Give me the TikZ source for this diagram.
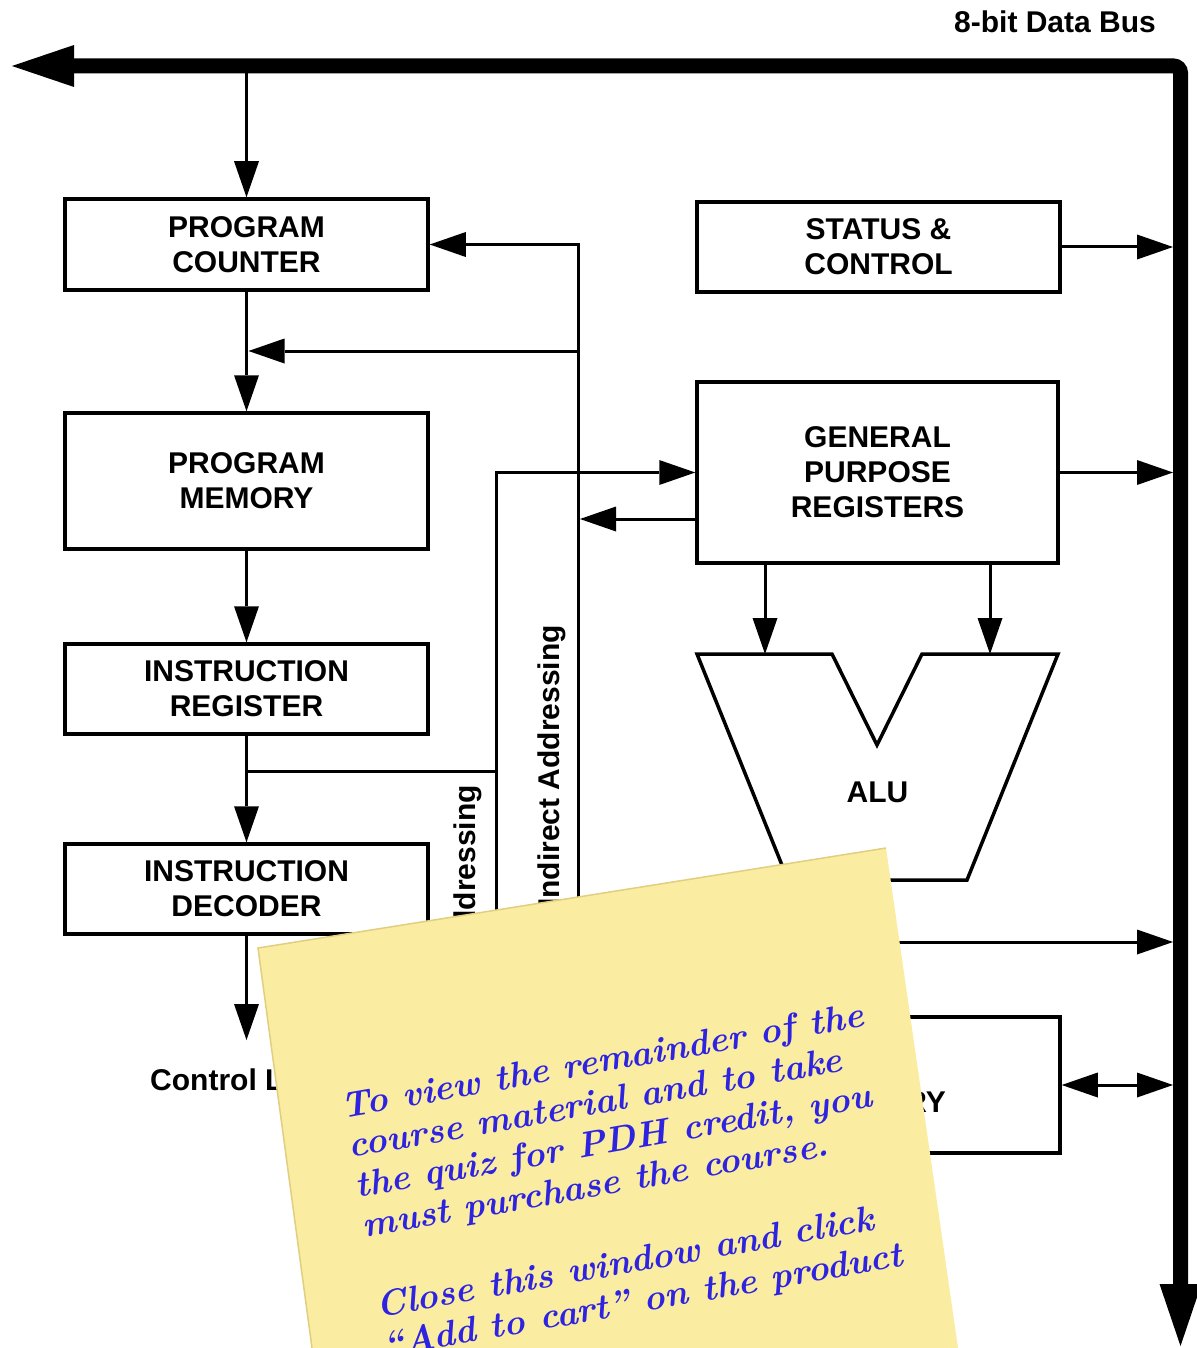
\documentclass[tikz,border=0pt]{standalone}
\usepackage{fontspec}
\newfontfamily\arialb{Liberation Sans}
\usetikzlibrary{arrows.meta}
\definecolor{notefill}{RGB}{250,236,160}
\definecolor{noteedge}{RGB}{226,206,128}
\definecolor{ink}{RGB}{45,35,225}
\begin{document}
\begin{tikzpicture}[x=1pt,y=-1pt,
  lbl/.style={font=\arialb\bfseries\fontsize{30}{35}\selectfont},
  blk/.style={draw, line width=3.5pt, minimum width=363pt, inner sep=0pt, align=center, lbl},
  arr/.style={line width=3pt, -{Triangle[length=36pt,width=25pt,line width=0pt]}},
  dblarr/.style={line width=3pt, {Triangle[length=36pt,width=25pt,line width=0pt]}-{Triangle[length=36pt,width=25pt,line width=0pt]}},
  wire/.style={line width=3pt},
  bus/.style={line width=15pt, rounded corners=7pt, {Triangle[length=62pt,width=42pt,line width=0pt]}-{Triangle[length=62pt,width=42pt,line width=0pt]}},
  hand/.style={font=\rmfamily\bfseries\itshape\fontsize{36}{40.5}\selectfont, text=ink, rotate=10, anchor=north west, inner sep=0pt, align=left}]
\useasboundingbox (0,0) rectangle (1196,1348);

% data bus
\coordinate (busL) at (12,66);
\coordinate (busC) at (1180.5,66);
\coordinate (busB) at (1180.5,1346);
\coordinate (busEdge) at (1173,0);
\draw[bus] (busL) -- (busC) -- (busB);
\node[lbl] (buslbl) at (1055,22) {8-bit Data Bus};

% left column
\node[blk, minimum height=91pt] (pc) at (246.5,244.5) {PROGRAM\\COUNTER};
\node[blk, minimum height=136pt] (pm) at (246.5,481) {PROGRAM\\MEMORY};
\node[blk, minimum height=90pt] (ir) at (246.5,689) {INSTRUCTION\\REGISTER};
\node[blk, minimum height=90pt] (id) at (246.5,889) {INSTRUCTION\\DECODER};

% right column
\node[blk, minimum height=90pt] (sc) at (878.5,247) {STATUS \&\\CONTROL};
\node[blk, minimum width=361pt, minimum height=181pt] (gpr) at (877.5,472.5) {GENERAL\\PURPOSE\\REGISTERS};
\node[blk, minimum height=136pt] (dm) at (878.5,1085) {};
\node[lbl, anchor=east, inner sep=0pt] (dmlbl) at (946,1102) {RY};

% ALU
\draw[line width=3.5pt, line join=miter] (697,654) -- (832,654) -- (877,745) -- (922,654) -- (1058,654) -- (967,880) -- (788,880) -- cycle;
\node[lbl] (alu) at (877.5,792) {ALU};

% left column connectors
\coordinate (tapPC) at (246.5,66);
\draw[arr] (tapPC) -- (pc.north);
\draw[arr] (pc.south) -- (pm.north);
\draw[arr] (pm.south) -- (ir.north);
\draw[arr] (ir.south) -- (id.north);
\coordinate (ctrl) at (246.5,1040);
\draw[arr] (id.south) -- (ctrl);
\node[lbl, anchor=west, inner sep=0pt] (ctrllbl) at (150,1080) {Control Lines};

% indirect addressing feedback
\coordinate (fbBot) at (578,905);
\coordinate (fbMid) at (578,351);
\coordinate (fbJoin) at (248.5,351);
\coordinate (fbIn) at (580,519);
\draw[arr] (fbBot) |- (pc.east);
\draw[arr] (fbMid) -- (fbJoin);
\draw[arr] (gpr.west |- fbIn) -- (fbIn);
\node[lbl, rotate=90, anchor=east, inner sep=0pt] (indlbl) at (552,625) {Indirect Addressing};

% direct addressing
\coordinate (dirBot) at (496,910);
\coordinate (brIR) at (246.5,771);
\draw[arr] (dirBot) |- (gpr.west);
\draw[wire] (brIR) -- (brIR -| dirBot);
\node[lbl, rotate=90, anchor=east, inner sep=0pt] (dirlbl) at (468,785) {Direct Addressing};

% right connectors
\draw[arr] (sc.east) -- (sc.east -| busEdge);
\draw[arr] (gpr.east) -- (gpr.east -| busEdge);
\coordinate (aluA) at (765,654);
\coordinate (aluB) at (990,654);
\draw[arr] (gpr.south -| aluA) -- (aluA);
\draw[arr] (gpr.south -| aluB) -- (aluB);
\coordinate (aluOut) at (870,942);
\draw[arr] (aluOut) -- (aluOut -| busEdge);
\draw[dblarr] (dm.east) -- (dm.east -| busEdge);

% sticky note
\fill[notefill] (258,948) -- (886,848) -- (958,1348) -- (312,1348) -- cycle;
\draw[noteedge, line width=1.5pt] (886,848) -- (258,948) -- (312,1348);
\node[hand] (note) at (339,1093) {To view the remainder of the\\course material and to take\\the quiz for PDH credit, you\\must purchase the course.\\[40.5pt]Close this window and click\\“Add to cart” on the product};
\end{tikzpicture}
\end{document}
